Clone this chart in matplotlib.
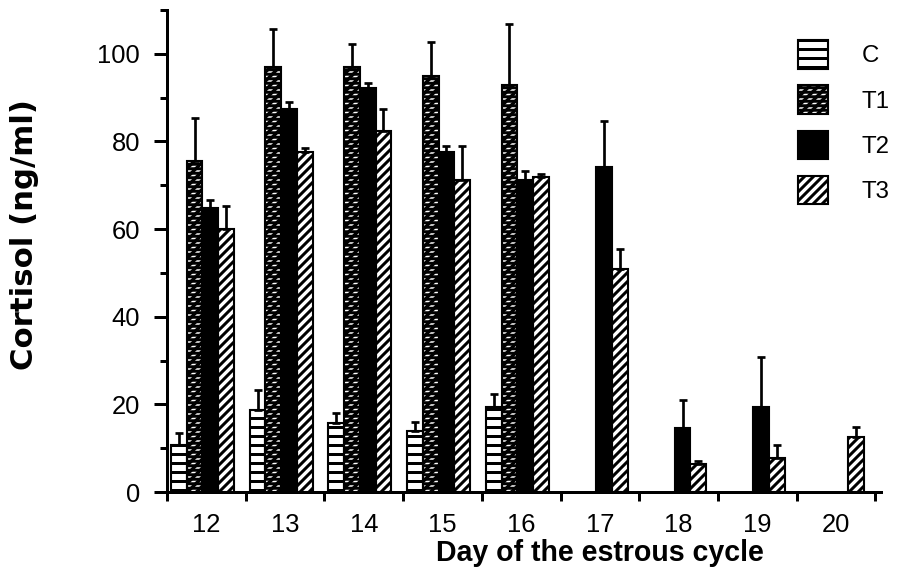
import numpy as np
import matplotlib
matplotlib.use('Agg')
import matplotlib.pyplot as plt
from matplotlib.patches import Patch

# cortisol (ng/ml) per day of the estrous cycle, mean and upper error
days = ['12', '13', '14', '15', '16', '17', '18', '19', '20']
c_mean = [10.7, 18.7, 15.8, 13.9, 19.4, np.nan, np.nan, np.nan, np.nan]
c_err = [2.7, 4.5, 2.2, 2.1, 2.9, np.nan, np.nan, np.nan, np.nan]
t1_mean = [75.6, 97.1, 97.1, 95.0, 92.9, np.nan, np.nan, np.nan, np.nan]
t1_err = [9.8, 8.6, 5.1, 7.7, 14.0, np.nan, np.nan, np.nan, np.nan]
t2_mean = [64.7, 87.4, 92.2, 77.5, 71.1, 74.1, 14.6, 19.4, np.nan]
t2_err = [2.0, 1.6, 1.2, 1.4, 2.2, 10.6, 6.4, 11.4, np.nan]
t3_mean = [60.1, 77.5, 82.3, 71.2, 72.0, 51.0, 6.4, 7.7, 12.5]
t3_err = [5.1, 1.1, 5.2, 7.7, 0.6, 4.5, 0.7, 3.0, 2.3]
labels = ['C', 'T1', 'T2', 'T3']

plt.rcParams['font.family'] = ['Liberation Sans', 'DejaVu Sans']
plt.rcParams['hatch.linewidth'] = 2.0

W, H, DPI = 897, 576, 108
fig = plt.figure(figsize=(W / DPI, H / DPI), dpi=DPI)
ax = fig.add_axes([167 / W, 1 - 492 / H, 714 / W, 482 / H])

# layers per series: (face, hatch colour, hatch); outline is drawn on top
styles = [
    [('white', 'black', '--')],
    [('black', 'white', '////'), (None, 'black', '----')],
    [('black', 'black', None)],
    [('white', 'black', '////')],
]

w = 0.2
shift = -0.05
xpos = np.arange(len(days))


def legend_handle(layers):
    parts = []
    for face, hcol, hatch in layers:
        if face is None:
            parts.append(Patch(fill=False, edgecolor=hcol, hatch=hatch, linewidth=0))
        else:
            parts.append(Patch(facecolor=face, edgecolor=hcol, hatch=hatch, linewidth=0))
    parts.append(Patch(fill=False, edgecolor='black', linewidth=1.4))
    return tuple(parts)


series = [(c_mean, c_err), (t1_mean, t1_err), (t2_mean, t2_err), (t3_mean, t3_err)]
handles = []
for k, (m, e) in enumerate(series):
    m = np.array(m, dtype=float)
    e = np.array(e, dtype=float)
    ok = ~np.isnan(m)
    xs = xpos[ok] + shift + (k - 1.5) * w
    for face, hcol, hatch in styles[k]:
        if face is None:
            ax.bar(xs, m[ok], w, fill=False, edgecolor=hcol, hatch=hatch, linewidth=0, zorder=2)
        else:
            ax.bar(xs, m[ok], w, color=face, edgecolor=hcol, hatch=hatch, linewidth=0, zorder=2)
    ax.bar(xs, m[ok], w, fill=False, edgecolor='black', linewidth=1.4, zorder=3)
    ax.errorbar(xs, m[ok], yerr=[np.zeros(ok.sum()), e[ok]], fmt='none', ecolor='black',
                elinewidth=1.8, capsize=2.7, capthick=1.8, zorder=4)
    handles.append(legend_handle(styles[k]))

ax.set_xlim(-0.5, 8.57)
ax.set_ylim(0, 110)
for s in ['top', 'right']:
    ax.spines[s].set_visible(False)
for s in ['left', 'bottom']:
    ax.spines[s].set_linewidth(2.0)

ax.set_yticks(np.arange(0, 101, 20))
ax.set_yticks(np.arange(10, 111, 20), minor=True)
ax.tick_params(axis='y', which='major', length=9, width=2.0, pad=9, labelsize=17)
ax.tick_params(axis='y', which='minor', length=5, width=2.0)

ax.set_xticks(np.arange(-0.5, 9, 1))
ax.set_xticklabels([])
ax.set_xticks(xpos, minor=True)
ax.set_xticklabels(days, minor=True)
ax.tick_params(axis='x', which='major', length=6, width=2.0)
ax.tick_params(axis='x', which='minor', length=0, pad=14, labelsize=17)

fig.text(25 / W, 1 - 235 / H, 'Cortisol (ng/ml)', rotation=90, ha='center', va='center',
         fontsize=20.5, fontweight='bold', family='DejaVu Sans')
fig.text(600 / W, 1 - 553 / H, 'Day of the estrous cycle', ha='center', va='center',
         fontsize=19, fontweight='bold')

ax.legend(handles, labels, loc='upper left', bbox_to_anchor=(798 / W, 1 - 40 / H),
          bbox_transform=fig.transFigure, frameon=False, fontsize=16,
          handlelength=1.25, handleheight=1.45, labelspacing=0.7, handletextpad=1.4,
          borderpad=0, borderaxespad=0)

fig.savefig('out.png', dpi=DPI)
